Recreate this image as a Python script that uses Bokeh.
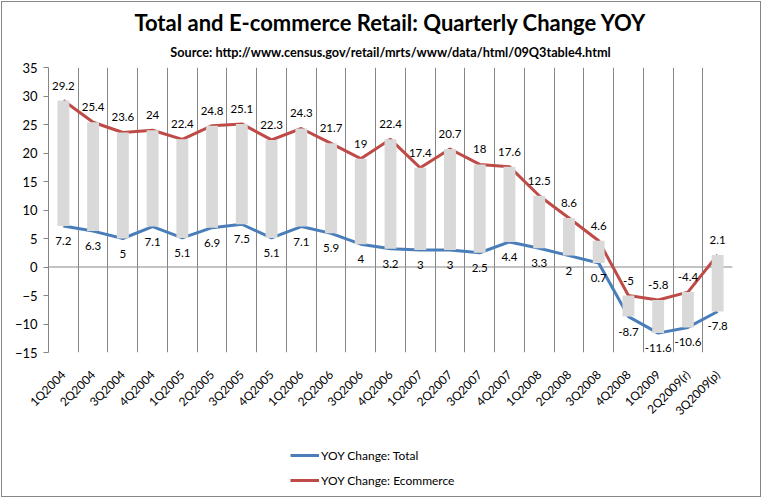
import math
from bokeh.plotting import figure
from bokeh.layouts import column
from bokeh.models import (Range1d, FixedTicker, Span, Title, Legend, LegendItem,
                          ColumnDataSource)
from bokeh.core.properties import value
from bokeh.embed import file_html
from bokeh.resources import INLINE

quarters = ["1Q2004", "2Q2004", "3Q2004", "4Q2004", "1Q2005", "2Q2005", "3Q2005", "4Q2005",
            "1Q2006", "2Q2006", "3Q2006", "4Q2006", "1Q2007", "2Q2007", "3Q2007", "4Q2007",
            "1Q2008", "2Q2008", "3Q2008", "4Q2008", "1Q2009", "2Q2009(r)", "3Q2009(p)"]
total = [7.2, 6.3, 5, 7.1, 5.1, 6.9, 7.5, 5.1, 7.1, 5.9, 4, 3.2, 3, 3, 2.5, 4.4,
         3.3, 2, 0.7, -8.7, -11.6, -10.6, -7.8]
ecommerce = [29.2, 25.4, 23.6, 24, 22.4, 24.8, 25.1, 22.3, 24.3, 21.7, 19, 22.4, 17.4, 20.7,
             18, 17.6, 12.5, 8.6, 4.6, -5, -5.8, -4.4, 2.1]
y_ticks = [-15, -10, -5, 0, 5, 10, 15, 20, 25, 30, 35]
series_names = ["YOY Change: Total", "YOY Change: Ecommerce"]

FONT = "Lato"
GRID = "#868686"
BLUE = "#4a7ebb"
RED = "#be4b48"
BAR = "#d9d9d9"
BORDER = "1px solid #868686"

xs = list(range(len(quarters)))
src = ColumnDataSource(dict(
    x=xs, total=total, ecom=ecommerce,
    tl=[f"{v:g}" for v in total], el=[f"{v:g}" for v in ecommerce],
))

p = figure(width=760, height=440, x_range=Range1d(-0.5, len(quarters) - 0.5),
           y_range=Range1d(-15, 35), output_backend="svg", toolbar_location=None,
           min_border_left=46, min_border_right=30, min_border_top=65, min_border_bottom=90)
p.styles = {"border-left": BORDER, "border-right": BORDER, "border-top": BORDER,
            "margin": "1px 1px 0px 1px"}
p.outline_line_color = None
p.background_fill_color = "white"
p.border_fill_color = "white"

# titles
p.add_layout(Title(text="Source: http://www.census.gov/retail/mrts/www/data/html/09Q3table4.html",
                   align="center", text_font=FONT, text_font_size="12.7px",
                   text_font_style="bold", text_color="black", standoff=15), "above")
p.add_layout(Title(text="Total and E-commerce Retail: Quarterly Change YOY",
                   align="center", text_font=FONT, text_font_size="22px",
                   text_font_style="bold", text_color="black", standoff=-3), "above")

# grid
p.ygrid.visible = False
p.xgrid.ticker = FixedTicker(ticks=[i + 0.5 for i in xs])
p.xgrid.grid_line_color = GRID
p.xgrid.grid_line_alpha = 1.0
p.add_layout(Span(location=0, dimension="width", line_color=GRID, line_width=1, level="underlay"))

# axes
p.yaxis.ticker = FixedTicker(ticks=y_ticks)
p.yaxis.axis_line_color = GRID
p.yaxis.major_tick_line_color = GRID
p.yaxis.major_tick_out = 5
p.yaxis.major_tick_in = 0
p.yaxis.minor_tick_line_color = None
p.yaxis.major_label_text_font = FONT
p.yaxis.major_label_text_font_size = "13px"
p.yaxis.major_label_text_color = "black"
p.yaxis.major_label_standoff = 6

p.xaxis.ticker = FixedTicker(ticks=xs)
p.xaxis.major_label_overrides = {i: q for i, q in zip(xs, quarters)}
p.xaxis.axis_line_color = None
p.xaxis.major_tick_line_color = None
p.xaxis.minor_tick_line_color = None
p.xaxis.major_label_orientation = math.pi / 4
p.xaxis.major_label_text_font = FONT
p.xaxis.major_label_text_font_size = "12px"
p.xaxis.major_label_text_color = "black"
p.xaxis.major_label_standoff = 14

# lines and bars
p.line("x", "total", source=src, line_color=BLUE, line_width=3)
p.line("x", "ecom", source=src, line_color=RED, line_width=3)
p.vbar(x="x", bottom="total", top="ecom", width=0.4, source=src,
       fill_color=BAR, line_color=None)

# data labels
p.text(x="x", y="ecom", text="el", source=src, text_align="center", text_baseline="middle",
       y_offset=-15, text_font=value(FONT), text_font_size="11.5px", text_color="black")
p.text(x="x", y="total", text="tl", source=src, text_align="center", text_baseline="middle",
       y_offset=15, text_font=value(FONT), text_font_size="11.5px", text_color="black")

# legend panel
q = figure(width=760, height=56, x_range=Range1d(0, 1), y_range=Range1d(0, 1),
           output_backend="svg", toolbar_location=None,
           x_axis_location=None, y_axis_location=None,
           min_border_left=0, min_border_right=0, min_border_top=0, min_border_bottom=0)
q.styles = {"border-left": BORDER, "border-right": BORDER, "border-bottom": BORDER,
            "margin": "0px 1px 1px 1px"}
q.grid.visible = False
q.outline_line_color = None
q.background_fill_color = "white"
q.border_fill_color = "white"
# legend-only renderers, kept outside the visible range
rt = q.line(x=[5, 6], y=[5, 5], line_color=BLUE, line_width=3)
re = q.line(x=[5, 6], y=[5, 5], line_color=RED, line_width=3)
legend = Legend(items=[LegendItem(label=series_names[0], renderers=[rt]),
                       LegendItem(label=series_names[1], renderers=[re])],
                orientation="vertical", location=(242, 7),
                border_line_color=None, background_fill_alpha=0,
                label_text_font=FONT, label_text_font_size="12px",
                label_text_color="black", glyph_width=29, glyph_height=14,
                label_height=20, label_standoff=2, spacing=5, padding=2, margin=0)
q.add_layout(legend, "center")

layout = column(p, q, spacing=0)
open("out.html", "w").write(file_html(layout, INLINE))
